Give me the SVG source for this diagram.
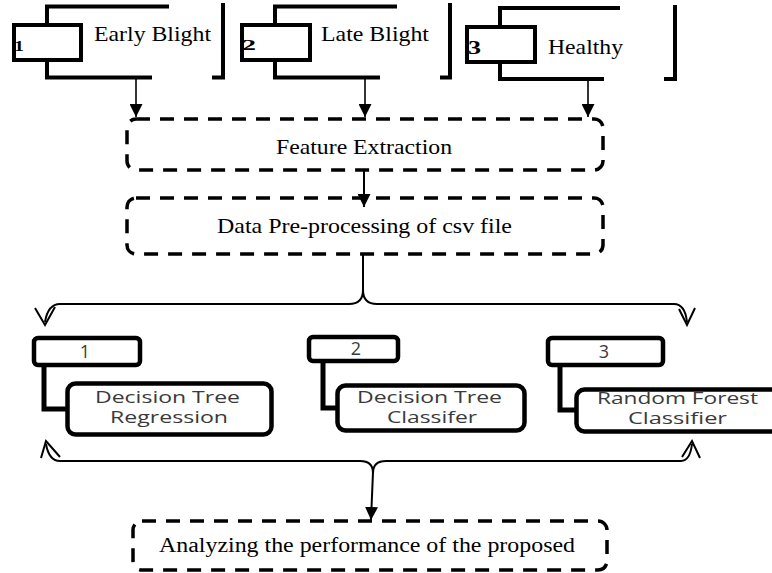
<svg xmlns="http://www.w3.org/2000/svg" width="772" height="573" viewBox="0 0 772 573">
<style>
.serif{font-family:"Liberation Serif","Times New Roman",serif;fill:#000}
.sans{font-family:"Open Sans","Liberation Sans",sans-serif;fill:#3a3a3a}
.thick{fill:none;stroke:#000;stroke-width:4;stroke-linecap:square}
.box{fill:#fff;stroke:#000;stroke-width:4}
.dash{fill:#fff;stroke:#000;stroke-width:3.5;stroke-dasharray:14 10}
.mid{fill:none;stroke:#000;stroke-width:5}
.mbox{fill:#fff;stroke:#000;stroke-width:4.5}
.line{fill:none;stroke:#000;stroke-width:2}
.open{fill:none;stroke:#000;stroke-width:2;stroke-linejoin:miter}
</style>
<defs>
<marker id="arr" viewBox="0 0 10 10" refX="10" refY="5" markerWidth="13" markerHeight="13" markerUnits="userSpaceOnUse" orient="auto">
<path d="M0,0 L10,5 L0,10 z" fill="#000"/>
</marker>
</defs>

<g id="node-early-blight">
<path class="thick" d="M47,24 V6.5 H167"/>
<path class="thick" d="M47,61 V77.5 H150"/>
<path class="thick" d="M214,77.5 H223 V5"/>
<rect class="box" x="14" y="25" width="67" height="35"/>
<text class="serif" x="14" y="51" font-size="15" font-weight="bold" textLength="10" lengthAdjust="spacingAndGlyphs">1</text>
<text class="serif" x="94" y="41" font-size="22" textLength="117" lengthAdjust="spacingAndGlyphs">Early Blight</text>
</g>

<g id="node-late-blight">
<path class="thick" d="M275,24 V6.5 H395"/>
<path class="thick" d="M275,61 V77.5 H378"/>
<path class="thick" d="M442,77.5 H450 V5"/>
<rect class="box" x="242" y="25" width="68" height="35"/>
<text class="serif" x="242" y="50" font-size="15" font-weight="bold" textLength="14" lengthAdjust="spacingAndGlyphs">2</text>
<text class="serif" x="321" y="41" font-size="22" textLength="108" lengthAdjust="spacingAndGlyphs">Late Blight</text>
</g>

<g id="node-healthy">
<path class="thick" d="M500,25 V8 H618"/>
<path class="thick" d="M500,63 V79 H602"/>
<path class="thick" d="M666,79 H675 V7"/>
<rect class="box" x="467" y="27" width="68" height="35"/>
<text class="serif" x="468" y="54" font-size="18" font-weight="bold" textLength="13" lengthAdjust="spacingAndGlyphs">3</text>
<text class="serif" x="548" y="54" font-size="22" textLength="75" lengthAdjust="spacingAndGlyphs">Healthy</text>
</g>

<g id="node-feature-extraction">
<rect class="dash" x="127" y="119" width="476" height="51" rx="9"/>
<text class="serif" x="276" y="154" font-size="21" textLength="176" lengthAdjust="spacingAndGlyphs">Feature Extraction</text>
</g>

<g id="node-preprocessing">
<rect class="dash" x="127" y="198" width="476" height="56" rx="9"/>
<text class="serif" x="217" y="233" font-size="21" textLength="295" lengthAdjust="spacingAndGlyphs">Data Pre-processing of csv file</text>
</g>

<g id="node-dtr">
<path class="mid" d="M44,365 V409 H68"/>
<rect class="mbox" x="34" y="338" width="106" height="27" rx="4"/>
<text class="sans" x="85" y="358" font-size="18" text-anchor="middle">1</text>
<rect class="mbox" x="67.5" y="383.5" width="204" height="51" rx="8"/>
<text class="sans" x="95" y="403" font-size="16" textLength="145" lengthAdjust="spacingAndGlyphs">Decision Tree</text>
<text class="sans" x="110" y="423" font-size="16" textLength="118" lengthAdjust="spacingAndGlyphs">Regression</text>
</g>

<g id="node-dtc">
<path class="mid" d="M323,361 V408 H338"/>
<rect class="mbox" x="309" y="337" width="89" height="24" rx="4"/>
<text class="sans" x="356" y="355" font-size="18" text-anchor="middle">2</text>
<rect class="mbox" x="337.5" y="385.5" width="187" height="45" rx="8"/>
<text class="sans" x="357" y="403" font-size="16" textLength="145" lengthAdjust="spacingAndGlyphs">Decision Tree</text>
<text class="sans" x="387" y="423" font-size="16" textLength="90" lengthAdjust="spacingAndGlyphs">Classifer</text>
</g>

<g id="node-rfc">
<path class="mid" d="M560,365 V410 H577"/>
<rect class="mbox" x="548" y="338" width="115" height="27" rx="4"/>
<text class="sans" x="604" y="358" font-size="18" text-anchor="middle">3</text>
<rect class="mbox" x="576.5" y="389.5" width="220" height="42" rx="8"/>
<text class="sans" x="597" y="404" font-size="16" textLength="161" lengthAdjust="spacingAndGlyphs">Random Forest</text>
<text class="sans" x="628" y="424" font-size="16" textLength="99" lengthAdjust="spacingAndGlyphs">Classifier</text>
</g>

<g id="node-analysis">
<rect class="dash" x="133" y="521" width="474" height="49" rx="9"/>
<text class="serif" x="159" y="552" font-size="20" textLength="416" lengthAdjust="spacingAndGlyphs">Analyzing the performance of the proposed</text>
</g>

<g id="connectors">
<line x1="136" y1="79" x2="136" y2="117" stroke="#000" stroke-width="1.6" marker-end="url(#arr)"/>
<line x1="365" y1="79" x2="365" y2="117" stroke="#000" stroke-width="1.6" marker-end="url(#arr)"/>
<line x1="588" y1="81" x2="588" y2="117" stroke="#000" stroke-width="1.6" marker-end="url(#arr)"/>
<line x1="364" y1="170" x2="364" y2="207" stroke="#000" stroke-width="2" marker-end="url(#arr)"/>

<path class="line" d="M363,254 V290 Q363,304 349,304 H60 Q48,304 45,322"/>
<path class="line" d="M363,290 Q363,304 377,304 H674 Q685,304 687,322"/>
<polyline class="open" points="35,308 45,325 55,307"/>
<polyline class="open" points="679,309 687,325 695,308"/>

<path class="line" d="M373,473 Q373,461 360,461 H60 Q49,461 46,444"/>
<path class="line" d="M373,473 Q373,461 386,461 H681 Q690,461 692,444"/>
<polyline class="open" points="41,458 46,441 60,457"/>
<polyline class="open" points="682,457 692,441 700,458"/>
<line x1="373" y1="472" x2="371" y2="520" stroke="#000" stroke-width="2" marker-end="url(#arr)"/>
</g>
</svg>
